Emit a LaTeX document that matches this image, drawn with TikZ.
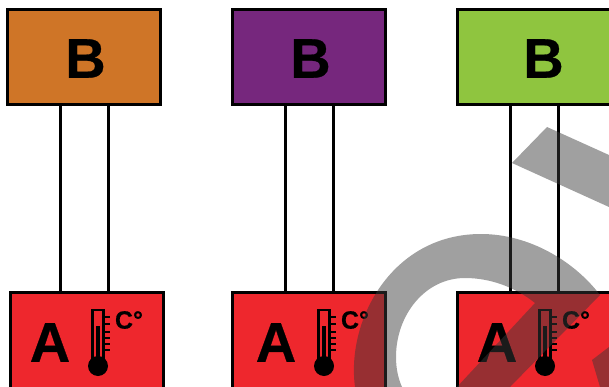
\documentclass[tikz,border=0pt]{standalone}
\usepackage{fontspec}
\setmainfont{Liberation Sans}
\newfontfamily\heavyfont{Liberation Sans}[BoldFeatures={FakeBold=0.5}]
\definecolor{boxred}{RGB}{238,39,45}
\definecolor{boxorange}{RGB}{207,117,39}
\definecolor{boxpurple}{RGB}{118,39,125}
\definecolor{boxgreen}{RGB}{143,197,63}
\definecolor{wm}{RGB}{57,57,57}
\tikzset{
  x=1pt,y=-1pt,
  topbox/.style={draw=black,line width=3pt,minimum width=153pt,minimum height=95pt,inner sep=0pt},
  botbox/.style={draw=black,line width=3pt,minimum width=153pt,minimum height=120pt,inner sep=0pt},
  wire/.style={line width=3pt,draw=black},
  letterB/.style={font=\fontsize{56}{56}\heavyfont\bfseries,inner sep=0pt},
  letterA/.style={font=\fontsize{56}{56}\heavyfont\bfseries,inner sep=0pt},
  degtext/.style={font=\fontsize{25}{25}\heavyfont\bfseries,inner sep=0pt},
}
\newcommand{\thermo}[1]{%
  \begin{scope}[shift={(#1,0)}]
    \draw[black,line width=2.4pt] (-5.5,366) -- (-5.5,310) -- (5.5,310) -- (5.5,366);
    \fill[black] (-2.4,326) rectangle (2.4,366);
    \fill[black] (0,366) circle (10);
    \foreach \yy in {317,324,332,338,344,350}{
      \draw[black,line width=2.1pt] (5.5,\yy) -- (12,\yy);
    }
  \end{scope}}
\begin{document}
\begin{tikzpicture}
\useasboundingbox (0,0) rectangle (609,387);
\fill[white] (0,0) rectangle (609,387);
\node[topbox,fill=boxorange] (b1) at (84,57) {};
\node[topbox,fill=boxpurple] (b2) at (309,57) {};
\node[topbox,fill=boxgreen] (b3) at (534,57) {};
\node[letterB] (lb1) at (85.5,58.5) {B};
\node[letterB] (lb2) at (310.5,58.5) {B};
\node[letterB] (lb3) at (543.5,58.5) {B};
\node[botbox,fill=boxred] (a1) at (87,352) {};
\node[botbox,fill=boxred] (a2) at (309,352) {};
\node[botbox,fill=boxred] (a3) at (534,352) {};
\foreach \n/\xa/\xb in {1/60/108,2/285/333,3/510/558}{
  \coordinate (t\n) at (\xa,105); \coordinate (u\n) at (\xa,292);
  \coordinate (v\n) at (\xb,105); \coordinate (w\n) at (\xb,292);
  \draw[wire] (t\n) -- (u\n);
  \draw[wire] (v\n) -- (w\n);
}
\node[letterA] (la1) at (50,342.5) {A};
\node[letterA] (la2) at (276,342.5) {A};
\node[letterA] (la3) at (497,342.5) {A};
\thermo{98}\thermo{324}\thermo{545}
\node[degtext] (c1) at (129,320) {C°};
\node[degtext] (c2) at (355,320) {C°};
\node[degtext] (c3) at (576,320) {C°};
% watermark
\fill[wm,fill opacity=0.48]
  (355,387) .. controls (346,320) and (392,234) .. (481,234)
  .. controls (530,234) and (575,262) .. (600,295)
  -- (510,387) -- (457,387) -- (535,303)
  .. controls (515,287) and (490,278) .. (465,278)
  .. controls (425,278) and (396,315) .. (396,357)
  .. controls (396,368) and (398,378) .. (402,387) -- cycle;
\fill[wm,fill opacity=0.48] (547,127) -- (512,163) -- (609,207) -- (609,155) -- cycle;
\fill[wm,fill opacity=0.48] (592,360) -- (609,347) -- (609,387) -- (600,387) -- cycle;
\end{tikzpicture}
\end{document}
